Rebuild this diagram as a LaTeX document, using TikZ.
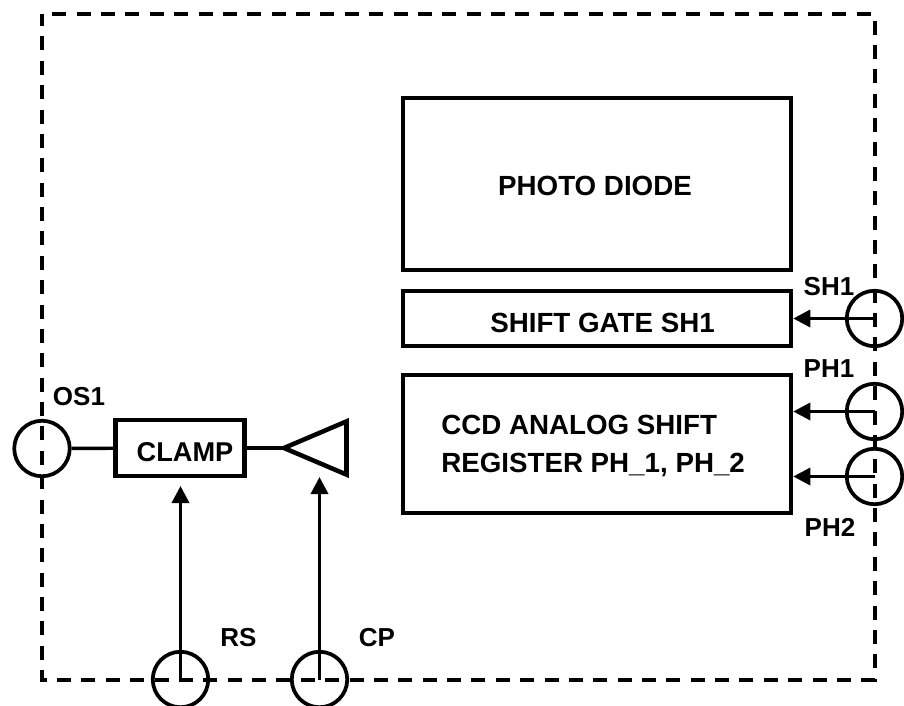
\documentclass[tikz,border=0pt]{standalone}
\usepackage{fontspec}
\setmainfont{Liberation Sans}
\usetikzlibrary{arrows.meta}
\tikzset{x=0.75pt,y=-0.75pt,
 box/.style={draw,line width=3.4pt,fill=none,inner sep=0pt},
 pin/.style={draw,circle,line width=2.8pt,minimum size=41.6pt,inner sep=0pt,fill=none},
 lbl/.style={font=\bfseries\fontsize{20.8pt}{24pt}\selectfont,inner sep=0pt},
 tag/.style={font=\bfseries\fontsize{19.5pt}{23pt}\selectfont,inner sep=0pt},
 conn/.style={line width=2.6pt},
 arr/.style={line width=2.6pt,-{Triangle[length=12.75pt,width=12.75pt]}}}
\begin{document}
\begin{tikzpicture}
\useasboundingbox (0,0) rectangle (904,706);
\draw[line width=3pt,dash pattern=on 10.5pt off 7.78pt,dash phase=10.5pt] (42,14) -- (874.5,14) -- (874.5,679.5) -- (42,679.5) -- cycle;
\node[box,minimum width=291pt,minimum height=129pt] (pd) at (597,184) {};
\node[lbl] at (595,186) {PHOTO DIODE};
\node[box,minimum width=291pt,minimum height=41.25pt] (sg) at (597,318.5) {};
\node[lbl] at (602.5,323) {SHIFT GATE SH1};
\node[box,minimum width=291pt,minimum height=103.5pt] (ccd) at (597,444) {};
\node[lbl,anchor=west] at (441,425) {CCD ANALOG SHIFT};
\node[lbl,anchor=west] at (441,465) {REGISTER PH\_1, PH\_2};
\node[box,minimum width=97pt,minimum height=42pt] (clamp) at (180,448) {};
\node[lbl,font=\bfseries\fontsize{20.4pt}{24pt}\selectfont] at (185,452) {CLAMP};
\node[pin] (os) at (42,448.5) {};
\node[pin] (sh) at (874.5,318.5) {};
\node[pin] (ph1) at (874.5,411.5) {};
\node[pin] (ph2) at (874.5,476.5) {};
\node[pin] (rs) at (180.5,679.5) {};
\node[pin] (cp) at (319.5,679.5) {};
\coordinate (amptip) at (284,448);
\draw[line width=3.4pt,miter limit=10] (346.5,421.4) -- (346.5,474.6) -- (amptip) -- cycle;
\coordinate (ampin) at (319.5,477);
\coordinate (clampin) at (180.5,486);
\draw[conn] (os) -- (clamp);
\draw[conn] (clamp) -- (amptip);
\draw[arr] (rs.center) -- (clampin);
\draw[arr] (cp.center) -- (ampin);
\draw[arr] (sh.center) -- (sg.east);
\draw[arr] (ph1.center) -- (ccd.east |- ph1);
\draw[arr] (ph2.center) -- (ccd.east |- ph2);
\node[tag] at (79,397) {OS1};
\node[tag] at (829,287) {SH1};
\node[tag] at (829,369) {PH1};
\node[tag] at (830,527) {PH2};
\node[tag] at (238.5,638) {RS};
\node[tag] at (377,638) {CP};
\end{tikzpicture}
\end{document}
